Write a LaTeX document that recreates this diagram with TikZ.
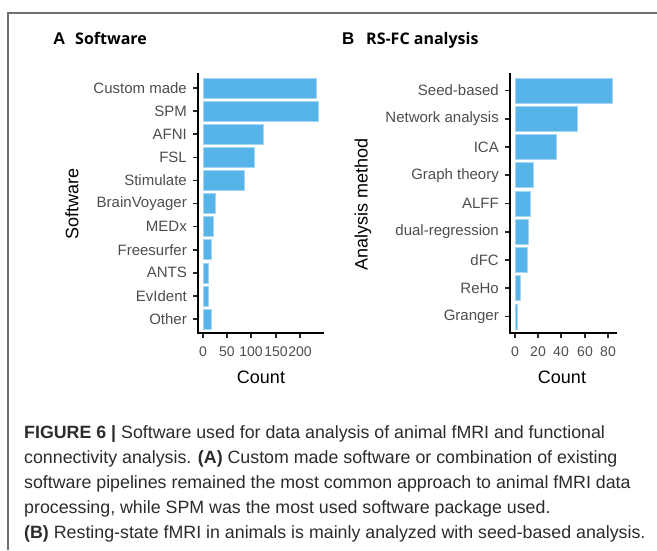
\documentclass[tikz,border=0pt]{standalone}
\usepackage{fontspec}
\setmainfont{Liberation Sans}
\newfontfamily\titlefont{Open Sans}
\usepackage{xcolor}
\usepackage{tikz}
\usetikzlibrary{positioning}

\definecolor{barBlue}{HTML}{56B4E9}
\definecolor{tickGray}{HTML}{4D4D4D}
\definecolor{frameGray}{HTML}{707070}
\definecolor{captionGray}{HTML}{2B2B2B}

\begin{document}
\begin{tikzpicture}[
        x=1pt, y=-1pt,
        barNodeA/.style={rectangle, fill=barBlue, draw=barBlue!55, line width=0.6pt,
        inner sep=0pt, minimum height=20pt, anchor=west},
        barNodeB/.style={barNodeA, minimum height=25pt},
        catLabel/.style={text=tickGray, font=\fontsize{15}{15}\selectfont, inner sep=0pt},
        numLabel/.style={text=tickGray, font=\fontsize{14}{14}\selectfont, inner sep=0pt},
        axisTitle/.style={font=\fontsize{18}{18}\selectfont, inner sep=0pt},
        panelLetter/.style={font=\fontsize{17}{17}\selectfont\bfseries, inner sep=0pt, anchor=base west},
        panelTitle/.style={font=\fontsize{16}{16}\selectfont\titlefont\bfseries, inner sep=0pt, anchor=base west},
        axisLine/.style={line width=2pt, line cap=rect},
        tickLine/.style={line width=1.6pt, draw=black!85},
        captionNode/.style={text=captionGray, font=\fontsize{17.8}{25}\selectfont, align=left,
        inner sep=0pt, anchor=base west},
    ]
    \useasboundingbox (0,0) rectangle (657,550);
    \draw[frameGray, line width=1.2pt] (8,550) -- (8,13) -- (657,13);

    % panel A
    \node[panelLetter] (letterA) at (53,44)  {A};
    \node[panelTitle]  (titleA)  at (75,44)  {Software};
    \node[barNodeA, minimum width=113pt] (barCustom)    at (203,88)    {};
    \node[barNodeA, minimum width=115pt] (barSPM)       at (203,111.1) {};
    \node[barNodeA, minimum width=60pt]  (barAFNI)      at (203,134.2) {};
    \node[barNodeA, minimum width=51pt]  (barFSL)       at (203,157.3) {};
    \node[barNodeA, minimum width=41pt]  (barStimulate) at (203,180.4) {};
    \node[barNodeA, minimum width=12pt]  (barBrainVoy)  at (203,203.5) {};
    \node[barNodeA, minimum width=10pt]  (barMEDx)      at (203,226.6) {};
    \node[barNodeA, minimum width=8pt]   (barFreesurf)  at (203,249.7) {};
    \node[barNodeA, minimum width=5pt]   (barANTS)      at (203,272.8) {};
    \node[barNodeA, minimum width=5pt]   (barEvIdent)   at (203,295.9) {};
    \node[barNodeA, minimum width=8pt]   (barOther)     at (203,319)   {};
    \node[catLabel] (labCustom)    [left=16pt of barCustom.west]    {Custom made};
    \node[catLabel] (labSPM)       [left=16pt of barSPM.west]       {SPM};
    \node[catLabel] (labAFNI)      [left=16pt of barAFNI.west]      {AFNI};
    \node[catLabel] (labFSL)       [left=16pt of barFSL.west]       {FSL};
    \node[catLabel] (labStimulate) [left=16pt of barStimulate.west] {Stimulate};
    \node[catLabel] (labBrainVoy)  [left=16pt of barBrainVoy.west]  {BrainVoyager};
    \node[catLabel] (labMEDx)      [left=16pt of barMEDx.west]      {MEDx};
    \node[catLabel] (labFreesurf)  [left=16pt of barFreesurf.west]  {Freesurfer};
    \node[catLabel] (labANTS)      [left=16pt of barANTS.west]      {ANTS};
    \node[catLabel] (labEvIdent)   [left=16pt of barEvIdent.west]   {EvIdent};
    \node[catLabel] (labOther)     [left=16pt of barOther.west]     {Other};
    \draw[tickLine] (193,88) -- (198,88) (193,111.1) -- (198,111.1) (193,134.2) -- (198,134.2)
        (193,157.3) -- (198,157.3) (193,180.4) -- (198,180.4) (193,203.5) -- (198,203.5)
        (193,226.6) -- (198,226.6) (193,249.7) -- (198,249.7) (193,272.8) -- (198,272.8)
        (193,295.9) -- (198,295.9) (193,319) -- (198,319);
    \draw[tickLine] (203,333) -- (203,338) (227,333) -- (227,338) (251,333) -- (251,338)
        (276,333) -- (276,338) (300,333) -- (300,338);
    \draw[axisLine] (198,74) -- (198,333) -- (323,333);
    \node[numLabel] (numA0)   at (203,352) {0};
    \node[numLabel] (numA50)  at (227,352) {50};
    \node[numLabel] (numA100) at (251,352) {100};
    \node[numLabel] (numA150) at (276,352) {150};
    \node[numLabel] (numA200) at (300,352) {200};
    \node[axisTitle] (countA) at (261,377) {Count};
    \node[axisTitle, rotate=90] (yTitleA) at (72,204) {Software};

    % panel B
    \node[panelLetter] (letterB) at (342,44) {B};
    \node[panelTitle]  (titleB)  at (366,44) {RS-FC analysis};
    \node[barNodeB, minimum width=97pt] (barSeed)    at (515,90.5)   {};
    \node[barNodeB, minimum width=62pt] (barNetwork) at (515,118.75) {};
    \node[barNodeB, minimum width=41pt] (barICA)     at (515,147)    {};
    \node[barNodeB, minimum width=18pt] (barGraph)   at (515,175.25) {};
    \node[barNodeB, minimum width=15pt] (barALFF)    at (515,203.5)  {};
    \node[barNodeB, minimum width=13pt] (barDualReg) at (515,231.75) {};
    \node[barNodeB, minimum width=12pt] (barDFC)     at (515,260)    {};
    \node[barNodeB, minimum width=5pt]  (barReHo)    at (515,288.25) {};
    \node[barNodeB, minimum width=2pt]  (barGranger) at (515,316.5)  {};
    \node[catLabel] (labSeed)    [left=16pt of barSeed.west]    {Seed-based};
    \node[catLabel] (labNetwork) [left=16pt of barNetwork.west] {Network analysis};
    \node[catLabel] (labICA)     [left=16pt of barICA.west]     {ICA};
    \node[catLabel] (labGraph)   [left=16pt of barGraph.west]   {Graph theory};
    \node[catLabel] (labALFF)    [left=16pt of barALFF.west]    {ALFF};
    \node[catLabel] (labDualReg) [left=16pt of barDualReg.west] {dual-regression};
    \node[catLabel] (labDFC)     [left=16pt of barDFC.west]     {dFC};
    \node[catLabel] (labReHo)    [left=16pt of barReHo.west]    {ReHo};
    \node[catLabel] (labGranger) [left=16pt of barGranger.west] {Granger};
    \draw[tickLine] (505,90.5) -- (510,90.5) (505,118.75) -- (510,118.75) (505,147) -- (510,147)
        (505,175.25) -- (510,175.25) (505,203.5) -- (510,203.5) (505,231.75) -- (510,231.75)
        (505,260) -- (510,260) (505,288.25) -- (510,288.25) (505,316.5) -- (510,316.5);
    \draw[tickLine] (515,333) -- (515,338) (538,333) -- (538,338) (561,333) -- (561,338)
        (585,333) -- (585,338) (608,333) -- (608,338);
    \draw[axisLine] (510,74) -- (510,333) -- (616,333);
    \node[numLabel] (numB0)  at (515,352) {0};
    \node[numLabel] (numB20) at (538,352) {20};
    \node[numLabel] (numB40) at (561,352) {40};
    \node[numLabel] (numB60) at (585,352) {60};
    \node[numLabel] (numB80) at (608,352) {80};
    \node[axisTitle] (countB) at (562,377) {Count};
    \node[axisTitle, rotate=90] (yTitleB) at (363,204) {Analysis method};

    % caption (base anchor sits on the last line)
    \node[captionNode] (caption) at (24,538) {\textbf{FIGURE 6 |} Software used for data analysis of animal fMRI and functional\\
        connectivity analysis. \textbf{(A)} Custom made software or combination of existing\\
        software pipelines remained the most common approach to animal fMRI data\\
        processing, while SPM was the most used software package used.\\
        \textbf{(B)} Resting-state fMRI in animals is mainly analyzed with seed-based analysis.};
\end{tikzpicture}
\end{document}
